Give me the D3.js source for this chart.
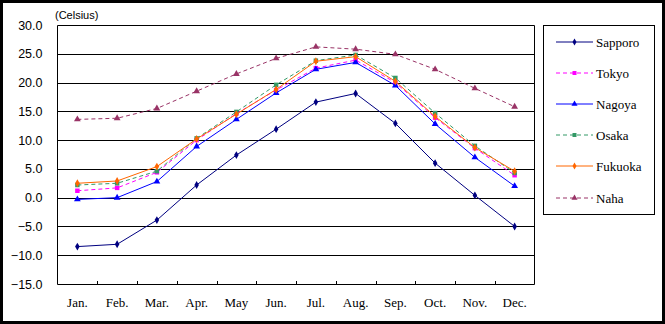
<!DOCTYPE html>
<html><head><meta charset="utf-8">
<script src="https://cdn.jsdelivr.net/npm/d3@7"></script>
<style>body{margin:0;background:#fff}svg{display:block}</style>
</head><body><svg id="c" width="665" height="324"></svg>
<script>
const months = ["Jan.","Feb.","Mar.","Apr.","May","Jun.","Jul.","Aug.","Sep.","Oct.","Nov.","Dec."];
const yTicks = [-15,-10,-5,0,5,10,15,20,25,30];
const sapporo = [-8.5,-8.1,-3.9,2.2,7.4,11.9,16.6,18.1,12.9,6.0,0.4,-5.0];
const tokyo   = [1.2,1.7,4.4,10.0,14.6,18.7,22.5,23.9,20.0,13.9,8.6,3.9];
const nagoya  = [-0.3,0.0,2.8,8.9,13.6,18.2,22.3,23.5,19.5,12.8,7.0,2.0];
const osaka   = [2.2,2.5,4.6,10.3,14.9,19.6,23.8,24.8,20.8,14.7,9.0,4.3];
const fukuoka = [2.5,2.9,5.4,10.2,14.5,18.8,23.7,24.5,20.2,14.1,8.7,4.6];
const naha    = [13.6,13.8,15.5,18.5,21.5,24.2,26.2,25.8,24.9,22.3,19.0,15.8];

const series = [
  {name:"Sapporo", values:sapporo, color:"#000080", dash:null, marker:"diamond"},
  {name:"Tokyo", values:tokyo, color:"#FF00FF", dash:"4,3", marker:"square"},
  {name:"Nagoya", values:nagoya, color:"#0000FF", dash:null, marker:"triangle"},
  {name:"Osaka", values:osaka, color:"#339966", dash:"4,3", marker:"square"},
  {name:"Fukuoka", values:fukuoka, color:"#FF6600", dash:null, marker:"diamond"},
  {name:"Naha", values:naha, color:"#993366", dash:"4,3", marker:"triangle"}
];

const svg = d3.select("#c");
const L=57.5, R=534.5, T=25, B=284;
const x = d3.scaleBand().domain(months).range([L,R]);
const y = d3.scaleLinear().domain([-15,30]).range([B,T]);

svg.append("rect").attr("x",1.5).attr("y",1.5).attr("width",662).attr("height",321)
  .attr("fill","#fff").attr("stroke","#000").attr("stroke-width",3);

svg.append("g").selectAll("line").data(yTicks).join("line")
  .attr("x1",L).attr("x2",R).attr("y1",d=>Math.round(y(d))+0.5).attr("y2",d=>Math.round(y(d))+0.5)
  .attr("stroke","#000").attr("stroke-width",1);
svg.append("line").attr("x1",L).attr("x2",L).attr("y1",T+0.5).attr("y2",B+0.5).attr("stroke","#000");
svg.append("line").attr("x1",R).attr("x2",R).attr("y1",T+0.5).attr("y2",B+0.5).attr("stroke","#000");

const yAxis = d3.axisLeft(y).tickValues(yTicks).tickSize(0).tickPadding(15).tickFormat(d3.format(".1f"));
const ga = svg.append("g").attr("transform",`translate(${L},0)`).call(yAxis);
ga.select(".domain").remove();
ga.selectAll("text").attr("font-family","Liberation Sans, Arial, sans-serif").attr("font-size",12.5).attr("fill","#000");

const bounds = months.slice(1).map(m=>x(m));
svg.append("g").selectAll("line").data(bounds).join("line")
  .attr("x1",d=>Math.round(d)+0.5).attr("x2",d=>Math.round(d)+0.5).attr("y1",B).attr("y2",B-3)
  .attr("stroke","#000");
const xAxis = d3.axisBottom(x).tickSize(0).tickPadding(14);
const gx = svg.append("g").attr("transform",`translate(0,${B})`).call(xAxis);
gx.select(".domain").remove();
gx.selectAll("text").attr("font-family","Liberation Serif, Times New Roman, serif").attr("font-size",13).attr("fill","#000");

svg.append("text").attr("x",55).attr("y",19).text("(Celsius)")
  .attr("font-family","Liberation Sans, Arial, sans-serif").attr("font-size",11).attr("fill","#000");

const symbolFor = {diamond:d3.symbolDiamond, square:d3.symbolSquare, triangle:d3.symbolTriangle};
const sizeFor = {diamond:18, square:20, triangle:20};
const line = d3.line().x((d,i)=>x(months[i])+x.bandwidth()/2).y(d=>y(d));

series.forEach(s=>{
  const g = svg.append("g");
  g.append("path").attr("d",line(s.values)).attr("fill","none").attr("stroke",s.color)
    .attr("stroke-width",1).attr("stroke-dasharray",s.dash);
  g.selectAll("path.m").data(s.values).join("path").attr("class","m")
    .attr("transform",(d,i)=>`translate(${x(months[i])+x.bandwidth()/2},${y(d)})`)
    .attr("d",d3.symbol().type(symbolFor[s.marker]).size(sizeFor[s.marker]))
    .attr("fill",s.color);
});

const lg = svg.append("g");
lg.append("rect").attr("x",543.5).attr("y",25.5).attr("width",111).attr("height",189)
  .attr("fill","#fff").attr("stroke","#000");
const ly = [42,73,104,135,166,198];
series.forEach((s,i)=>{
  lg.append("line").attr("x1",556).attr("x2",593).attr("y1",ly[i]).attr("y2",ly[i])
    .attr("stroke",s.color).attr("stroke-width",1).attr("stroke-dasharray",s.dash);
  lg.append("path").attr("transform",`translate(574.5,${ly[i]})`)
    .attr("d",d3.symbol().type(symbolFor[s.marker]).size(sizeFor[s.marker]-4)).attr("fill",s.color);
  lg.append("text").attr("x",596).attr("y",ly[i]+4.5).text(s.name)
    .attr("font-family","Liberation Serif, Times New Roman, serif").attr("font-size",13).attr("fill","#000");
});
</script></body></html>
